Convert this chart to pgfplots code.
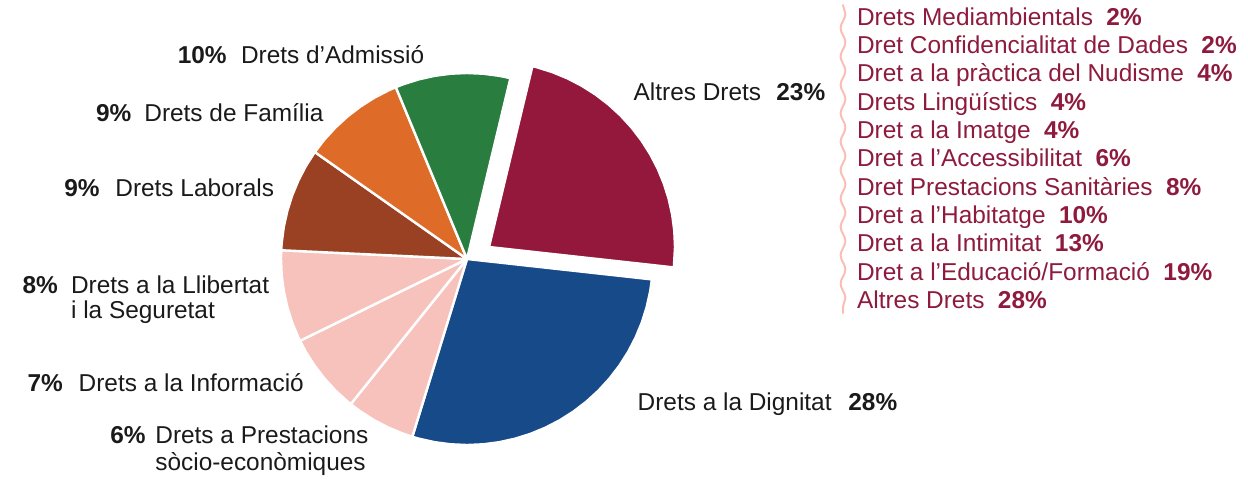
\documentclass[border=0pt]{standalone}
\usepackage{fontspec}
\setmainfont{Liberation Sans}
\usepackage{pgfplots}
\pgfplotsset{compat=1.18}
\usepgfplotslibrary{polar}
\usetikzlibrary{decorations.pathmorphing}

\definecolor{altres}{HTML}{93183C}
\definecolor{dignitat}{HTML}{174A89}
\definecolor{rosa}{HTML}{F8C2BC}
\definecolor{marro}{HTML}{9A4123}
\definecolor{taronja}{HTML}{DE6C28}
\definecolor{verd}{HTML}{287D3F}
\definecolor{llista}{HTML}{8E1A3E}
\definecolor{ona}{HTML}{F9BFB5}
\definecolor{ink}{HTML}{1A1A1A}

\tikzset{
  lab/.style={font=\fontsize{12.2}{14}\selectfont, text=ink, inner sep=0pt},
  item/.style={lab, text=llista, anchor=base west},
  slice/.style={draw=white, line width=1.2pt, line join=round},
}

\begin{document}
\begin{tikzpicture}
% frame axis in pixel units (y from top) for the labels
\begin{axis}[at={(0,0)}, anchor=south west, scale only axis,
  width=624pt, height=242pt,
  xmin=0, xmax=1248, ymin=0, ymax=484, y dir=reverse,
  hide axis, clip=false]
\path (axis cs:0,0) rectangle (axis cs:1248,484);

% left labels
\node[lab, anchor=base east] at (axis cs:227,63.3) {\textbf{10\%}};
\node[lab, anchor=base west] at (axis cs:240.7,63.3) {Drets d’Admissió};
\node[lab, anchor=base east] at (axis cs:131.7,121.7) {\textbf{9\%}};
\node[lab, anchor=base west] at (axis cs:144,121.7) {Drets de Família};
\node[lab, anchor=base east] at (axis cs:100,196.7) {\textbf{9\%}};
\node[lab, anchor=base west] at (axis cs:115,196.7) {Drets Laborals};
\node[lab, anchor=base east] at (axis cs:58.3,293.3) {\textbf{8\%}};
\node[lab, anchor=base west] at (axis cs:70.7,293.3) {Drets a la Llibertat};
\node[lab, anchor=base west] at (axis cs:70.7,318.3) {i la Seguretat};
\node[lab, anchor=base east] at (axis cs:63.3,391.7) {\textbf{7\%}};
\node[lab, anchor=base west] at (axis cs:78.3,391.7) {Drets a la Informació};
\node[lab, anchor=base east] at (axis cs:146,443.3) {\textbf{6\%}};
\node[lab, anchor=base west] at (axis cs:155,443.3) {Drets a Prestacions};
\node[lab, anchor=base west] at (axis cs:155,470) {sòcio-econòmiques};

% right labels
\node[lab, anchor=base west] at (axis cs:633.3,100.7) {Altres Drets};
\node[lab, anchor=base west] at (axis cs:776,100.7) {\textbf{23\%}};
\node[lab, anchor=base west] at (axis cs:637.3,410) {Drets a la Dignitat};
\node[lab, anchor=base west] at (axis cs:848,410) {\textbf{28\%}};

% breakdown of "Altres Drets"
\draw[ona, line width=1pt, line cap=round,
  decorate, decoration={snake, amplitude=1.2pt, segment length=14.2pt}]
  (axis cs:843,5) -- (axis cs:843,313);
\node[item] at (axis cs:856.7,25)    {Drets Mediambientals\hspace{0.55em}\textbf{2\%}};
\node[item] at (axis cs:856.7,53.3)  {Dret Confidencialitat de Dades\hspace{0.55em}\textbf{2\%}};
\node[item] at (axis cs:856.7,81.7)  {Dret a la pràctica del Nudisme\hspace{0.55em}\textbf{4\%}};
\node[item] at (axis cs:856.7,110)   {Drets Lingüístics\hspace{0.55em}\textbf{4\%}};
\node[item] at (axis cs:856.7,138.3) {Dret a la Imatge\hspace{0.55em}\textbf{4\%}};
\node[item] at (axis cs:856.7,166.7) {Dret a l’Accessibilitat\hspace{0.55em}\textbf{6\%}};
\node[item] at (axis cs:856.7,195)   {Dret Prestacions Sanitàries\hspace{0.55em}\textbf{8\%}};
\node[item] at (axis cs:856.7,223.3) {Dret a l’Habitatge\hspace{0.55em}\textbf{10\%}};
\node[item] at (axis cs:856.7,251.7) {Dret a la Intimitat\hspace{0.55em}\textbf{13\%}};
\node[item] at (axis cs:856.7,280)   {Dret a l’Educació/Formació\hspace{0.55em}\textbf{19\%}};
\node[item] at (axis cs:856.7,308.3) {Altres Drets\hspace{0.55em}\textbf{28\%}};
\end{axis}

% the pie: angle in degrees, radius 1
\begin{polaraxis}[at={(233.5pt,112.5pt)}, anchor=center, scale only axis,
  width=186pt, height=186pt, xmin=0, xmax=360, ymin=0, ymax=1,
  hide axis, clip=false]
% Altres Drets 23% (exploded)
\addplot[slice, fill=altres, xshift=11pt, yshift=6pt] coordinates {(0,0) (-6.3,1) (0,1) (5,1) (10,1) (15,1) (20,1) (25,1) (30,1) (35,1) (40,1) (45,1) (50,1) (55,1) (60,1) (65,1) (70,1) (75,1) (76.5,1)} -- cycle;
% Drets a la Dignitat 28%
\addplot[slice, fill=dignitat] coordinates {(0,0) (252.9,1) (255,1) (260,1) (265,1) (270,1) (275,1) (280,1) (285,1) (290,1) (295,1) (300,1) (305,1) (310,1) (315,1) (320,1) (325,1) (330,1) (335,1) (340,1) (345,1) (350,1) (353.7,1)} -- cycle;
% Prestacions 6%
\addplot[slice, fill=rosa] coordinates {(0,0) (231.3,1) (235,1) (240,1) (245,1) (250,1) (252.9,1)} -- cycle;
% Informacio 7%
\addplot[slice, fill=rosa] coordinates {(0,0) (206.1,1) (210,1) (215,1) (220,1) (225,1) (230,1) (231.3,1)} -- cycle;
% Llibertat 8%
\addplot[slice, fill=rosa] coordinates {(0,0) (177.3,1) (180,1) (185,1) (190,1) (195,1) (200,1) (205,1) (206.1,1)} -- cycle;
% Laborals 9%
\addplot[slice, fill=marro] coordinates {(0,0) (144.9,1) (150,1) (155,1) (160,1) (165,1) (170,1) (175,1) (177.3,1)} -- cycle;
% Familia 9%
\addplot[slice, fill=taronja] coordinates {(0,0) (112.5,1) (115,1) (120,1) (125,1) (130,1) (135,1) (140,1) (144.9,1)} -- cycle;
% Admissio 10%
\addplot[slice, fill=verd] coordinates {(0,0) (76.5,1) (80,1) (85,1) (90,1) (95,1) (100,1) (105,1) (110,1) (112.5,1)} -- cycle;
\end{polaraxis}
\end{tikzpicture}
\end{document}
